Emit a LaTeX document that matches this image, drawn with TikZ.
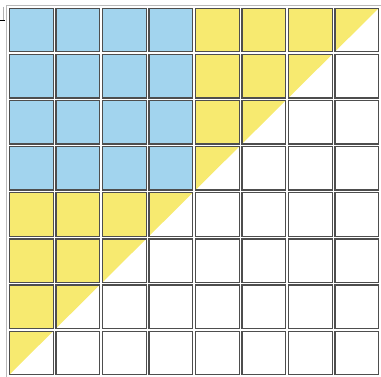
\documentclass[tikz,border=0pt]{standalone}
\definecolor{pencilblue}{RGB}{162,212,238}
\definecolor{pencilyellow}{RGB}{247,234,112}
\definecolor{gridgray}{RGB}{78,78,78}
\begin{document}
\begin{tikzpicture}[x=1pt,y=-1pt,line cap=rect,
  gridline/.style={draw=gridgray,line width=4pt},
  gridgap/.style={draw=white,line width=1.4pt}]
  \useasboundingbox (0,0) rectangle (381,377);
  % coloured cells
  \fill[pencilyellow] (8,7) -- (380,7) -- (8,376) -- cycle;
  \fill[pencilblue] (8,7) rectangle (194,191.5);
  % grid: dark strokes first, then the white gaps
  \foreach \i in {0,...,8} {
    \draw[gridline] (8+46.5*\i,7) -- (8+46.5*\i,376);
    \draw[gridline] (8,7+46.125*\i) -- (380,7+46.125*\i);
  }
  \foreach \i in {0,...,8} {
    \draw[gridgap] (8+46.5*\i,7) -- (8+46.5*\i,376);
    \draw[gridgap] (8,7+46.125*\i) -- (380,7+46.125*\i);
  }
  % lighter outer line of the frame
  \draw[gray!55,line width=1.2pt] (6.3,5.3) rectangle (381.7,377.7);
  % scan mark
  \draw[gray!60,line width=0.6pt] (3,7) -- (3,21);
  \draw[black,line width=1pt] (0,21) -- (4,21);
\end{tikzpicture}
\end{document}
